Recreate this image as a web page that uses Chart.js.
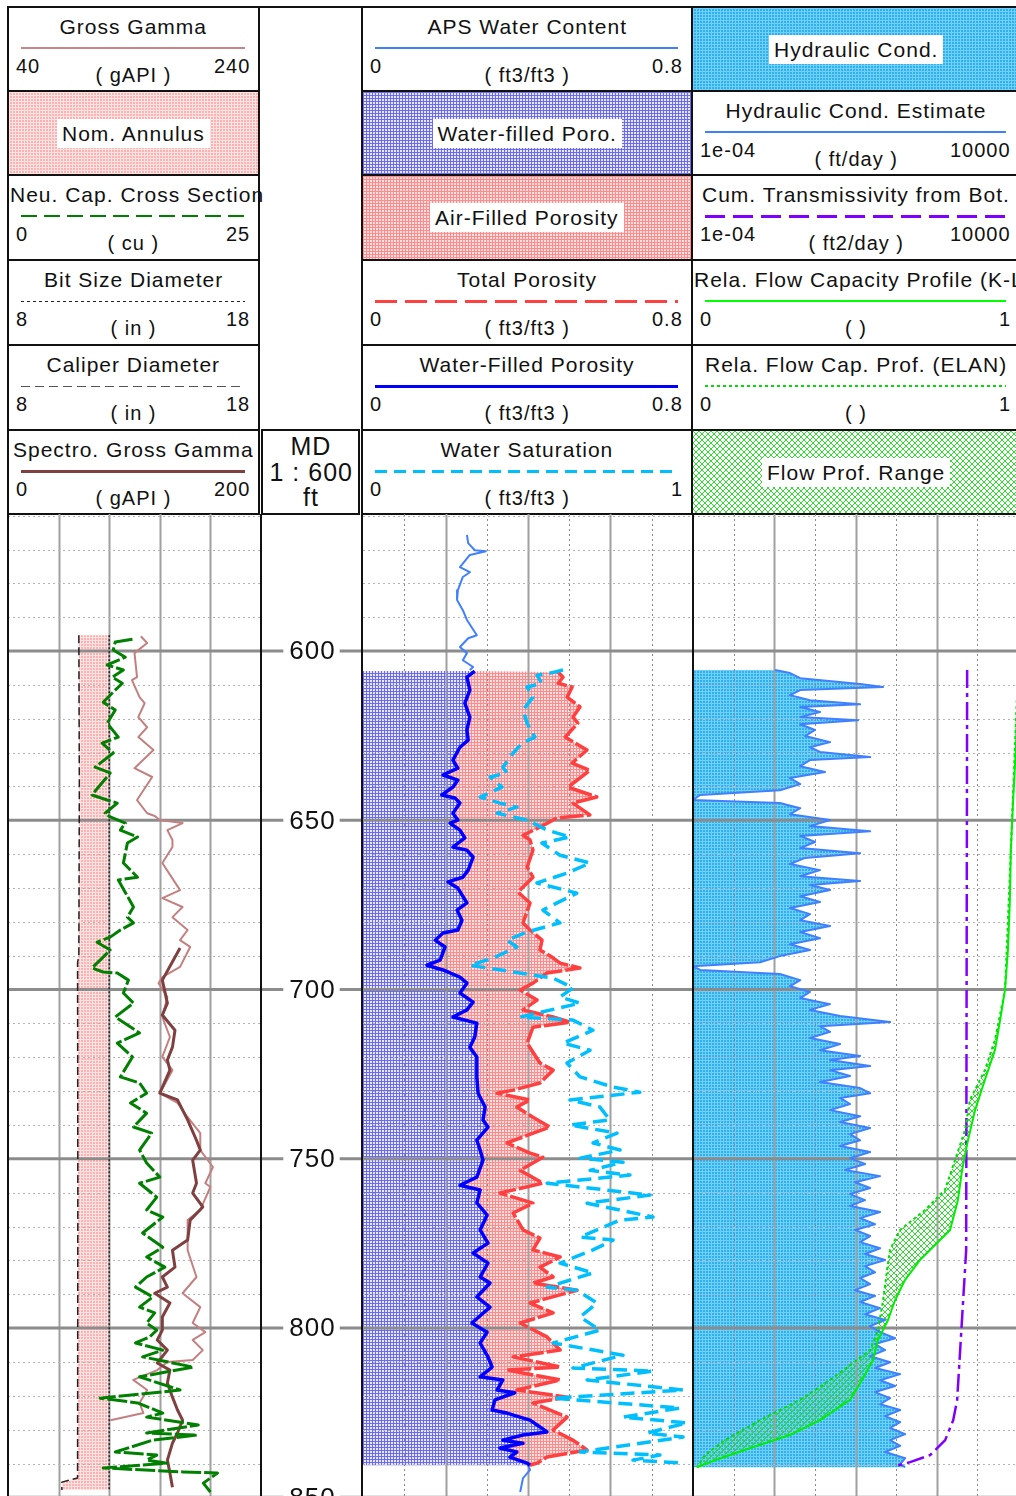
<!DOCTYPE html>
<html>
<head>
<meta charset="utf-8">
<title>Well log</title>
<script src="https://cdn.jsdelivr.net/npm/chart.js@4.4.1/dist/chart.umd.min.js"></script>
<style>
  html, body { margin: 0; padding: 0; background: #fff; }
  body { position: relative; width: 1016px; height: 1496px; overflow: hidden;
         font-family: "Liberation Sans", Arial, sans-serif; color: #111; }
  .cell { position: absolute; box-sizing: border-box; border: 2px solid #111; }
  .txt { position: absolute; white-space: nowrap; line-height: 1; letter-spacing: 1px; }
  .lbl { background: #fff; padding: 4px 5px; }
  .rule { position: absolute; background: #111; }
  canvas { position: absolute; }
</style>
</head>
<body>
<script>
// depth window (ft)
const depthTop = 559.5;
const depthBase = 849.6;
const majorDepths = [600, 650, 700, 750, 800, 850];

// ---- track 1 ----
const grDepth = [595.6,597.6,600.6,607.7,608.6,613.6,615.4,619.5,622.5,625.4,629.2,634.6,637.2,644.0,647.9,648.7,649.9,650.8,652.9,655.8,657.9,662.6,670.6,673.0,675.6,678.6,682.4,685.4,687.4,693.3,696.3,698.1,702.2,708.1,714.0,719.9,723.8,730.6,733.5,737.7,742.4,747.4,752.4,757.2,758.3,765.1,768.1,777.0,784.9,789.7,793.8,798.5,801.2,803.5,806.5,809.4,810.0,812.4,815.3,818.3,822.1,825.1,827.2];
const grValues = [145,150,140,142,138,144,148,143,150,143,155,140,154,142,150,156,160,178,166,170,170,162,176,162,178,170,182,176,184,176,162,159,166,162,168,162,170,160,174,182,192,192,202,196,200,192,182,182,189,178,192,186,196,186,194,186,166,158,139,150,144,147,121];

const sgrDepth = [687.7,697.2,704.0,707.5,712.0,717.0,720.8,723.8,730.6,732.6,738.5,744.5,747.4,750.4,757.2,760.1,764.2,768.1,774.0,777.0,782.0,784.9,787.9,789.7,792.6,796.7,800.6,803.5,806.5,810.3,812.4,816.2,820.4,824.2,827.2,831.0,834.0,839.0,842.8,847.0];
const sgrValues = [136,122,126,122,132,130,126,128,120,134,142,149,152,146,149,146,154,144,142,130,132,122,126,116,128,122,122,118,126,118,128,126,130,134,138,134,130,126,128,130];

const ncsDepth = [596.5,597.3,599.7,601.8,604.1,605.6,607.7,609.5,612.1,615.1,617.4,621.3,625.4,627.2,630.1,634.3,636.0,642.5,644.0,644.9,647.9,649.0,650.8,652.9,654.9,656.7,662.6,666.8,667.6,675.6,678.6,680.3,682.4,684.5,686.0,688.3,691.3,693.6,694.8,695.1,697.2,701.0,704.0,708.1,712.8,715.8,719.9,725.8,727.6,730.6,733.5,736.5,740.6,742.4,747.4,751.2,755.4,757.2,761.3,765.1,767.2,771.9,776.1,779.0,782.0,784.9,787.9,790.8,793.8,795.5,798.5,800.6,802.6,804.4,806.5,808.5,811.5,814.4,818.3,820.7,822.1,825.1,826.3,828.6,831.0,831.6,833.1,836.6,837.5,839.0,839.9,841.3,842.5,842.8,845.8,848.4];
const ncsValues = [12.3,10.6,10.4,11.6,9.8,11.4,10.3,11.3,10.4,9.4,10.6,9.8,10.9,9.3,10.4,8.6,10.1,8.3,9.8,10.8,9.6,10.1,11.6,11.1,12.8,11.8,11.4,12.8,10.9,12.4,11.8,12.4,11.1,10.1,8.8,10.1,9.1,8.3,9.4,10.8,11.9,11.4,12.4,10.6,13.0,10.8,12.3,11.1,13.0,13.7,12.1,13.7,12.4,14.2,13.0,13.7,15.0,13.0,14.7,13.7,15.3,13.3,15.3,13.7,15.5,13.7,12.6,14.3,13.0,14.5,13.7,14.7,14.0,12.6,15.3,13.3,18.3,13.0,17.0,9.1,12.8,15.3,13.7,18.8,13.7,18.7,14.3,10.6,14.7,13.7,15.7,9.4,17.3,20.7,19.3,20.0];

const calDepth = [595.3,640.0,690.0,692.0,760.0,844.3,845.5,847.8];
const calValues = [10.80,10.82,10.80,10.75,10.76,10.75,10.13,10.13];
const bitDepth = [595.3,847.8];
const bitValues = [12,12];

// ---- track 2 ----
const apsTopDepth = [565.7,568.1,570.2,570.5,571.6,575.2,576.7,578.1,582.0,584.9,587.9,590.8,595.3,596.2,598.8,600.6,602.7,604.7,605.6];
const apsTopValues = [0.252,0.255,0.271,0.298,0.259,0.235,0.259,0.242,0.230,0.228,0.242,0.252,0.276,0.255,0.235,0.252,0.242,0.267,0.259];
const apsBaseDepth = [839.9,841.9,844.3,848.4];
const apsBaseValues = [0.398,0.405,0.388,0.381];

const wfpDepth = [605.9,607.7,611.5,615.4,619.5,623.3,626.3,628.4,632.2,634.6,636.6,638.1,640.2,642.5,643.4,644.9,647.9,649.9,650.8,652.9,655.2,657.9,658.8,660.9,664.7,666.8,668.2,670.0,674.4,676.5,679.5,682.4,683.3,685.4,687.4,691.3,692.8,694.2,696.3,698.1,701.0,703.7,706.0,708.1,709.9,714.0,717.0,719.9,725.8,730.6,734.7,738.5,740.6,744.5,747.4,750.4,755.4,757.8,759.2,763.0,766.6,771.0,774.9,777.8,780.8,784.9,786.7,790.8,793.8,798.5,801.2,804.4,808.5,811.5,814.4,815.3,818.3,819.1,821.2,824.2,825.1,827.2,829.2,830.7,831.6,833.1,834.0,835.4,836.6,838.1,839.9,840.5];
const wfpValues = [0.271,0.252,0.259,0.247,0.259,0.252,0.255,0.235,0.218,0.230,0.194,0.230,0.218,0.191,0.223,0.235,0.218,0.230,0.211,0.235,0.247,0.218,0.252,0.267,0.255,0.242,0.206,0.230,0.252,0.228,0.240,0.230,0.194,0.175,0.199,0.187,0.155,0.194,0.235,0.252,0.235,0.267,0.252,0.218,0.276,0.271,0.259,0.276,0.276,0.279,0.296,0.291,0.303,0.276,0.284,0.291,0.276,0.235,0.284,0.276,0.301,0.284,0.303,0.267,0.303,0.284,0.308,0.276,0.308,0.264,0.301,0.284,0.303,0.313,0.284,0.339,0.325,0.368,0.320,0.313,0.349,0.405,0.429,0.446,0.388,0.339,0.388,0.332,0.373,0.356,0.398,0.405];

const tpDepth = [606.2,607.7,609.5,610.6,613.6,616.5,619.5,621.3,625.4,629.2,633.1,635.2,640.2,643.1,644.9,648.4,649.3,652.0,654.4,655.8,658.8,663.8,666.8,671.2,674.4,680.3,682.4,685.4,688.3,690.4,692.2,693.6,695.1,698.1,700.1,703.1,706.0,708.1,709.6,711.1,715.8,721.7,723.8,727.6,729.7,730.6,732.6,734.7,737.7,740.6,745.3,748.3,749.5,753.4,757.2,760.1,763.1,766.0,771.0,773.4,776.9,779.0,782.0,784.9,786.7,788.8,792.6,795.5,798.5,802.6,806.5,808.5,811.5,812.4,815.3,818.3,820.4,822.1,826.3,830.1,833.1,836.0,838.1,839.9,840.5];
const tpValues = [0.473,0.485,0.473,0.507,0.495,0.526,0.509,0.521,0.490,0.543,0.507,0.550,0.497,0.567,0.509,0.550,0.470,0.429,0.388,0.405,0.412,0.398,0.412,0.376,0.405,0.388,0.405,0.434,0.429,0.458,0.478,0.526,0.446,0.412,0.381,0.422,0.388,0.461,0.502,0.412,0.398,0.429,0.461,0.429,0.364,0.325,0.405,0.373,0.412,0.453,0.349,0.405,0.436,0.381,0.436,0.332,0.412,0.364,0.388,0.429,0.412,0.478,0.429,0.461,0.412,0.519,0.405,0.461,0.381,0.446,0.478,0.364,0.478,0.349,0.478,0.373,0.495,0.412,0.495,0.461,0.509,0.543,0.446,0.422,0.405];

const swDepth = [605.6,606.5,607.1,609.5,610.6,613.6,617.4,621.3,625.4,627.2,630.1,634.3,636.0,637.2,640.2,643.1,644.9,646.1,647.9,649.9,652.9,654.9,656.7,660.3,662.6,665.6,668.5,671.5,676.5,680.3,683.0,685.4,687.4,690.7,692.8,695.7,696.6,699.5,702.2,704.0,708.1,709.0,712.0,715.8,717.9,721.7,725.8,728.8,730.3,732.6,734.7,738.5,740.0,742.4,745.3,747.4,749.8,751.0,753.4,754.8,757.2,760.7,763.1,767.2,768.1,773.1,774.0,776.9,780.8,783.7,787.9,788.8,792.6,796.7,800.6,804.4,808.0,811.8,812.7,815.3,818.3,820.7,823.6,826.3,828.0,831.0,832.2,836.6,837.5,839.0,839.9];
const swValues = [0.606,0.567,0.527,0.542,0.497,0.515,0.485,0.497,0.521,0.482,0.455,0.424,0.436,0.385,0.421,0.355,0.415,0.467,0.406,0.497,0.558,0.627,0.542,0.597,0.688,0.618,0.527,0.648,0.545,0.597,0.497,0.436,0.467,0.394,0.324,0.515,0.576,0.636,0.597,0.658,0.476,0.636,0.697,0.606,0.688,0.618,0.658,0.758,0.839,0.627,0.718,0.748,0.627,0.770,0.697,0.779,0.658,0.788,0.688,0.809,0.558,0.870,0.679,0.879,0.779,0.658,0.758,0.697,0.597,0.697,0.558,0.648,0.709,0.658,0.718,0.576,0.788,0.636,0.879,0.679,0.970,0.576,0.961,0.788,0.982,0.861,0.970,0.658,0.900,0.818,0.976];

// ---- track 3 ----
const kDepth = [605.6,606.5,608.0,609.7,610.6,611.5,613.0,614.5,615.7,616.5,618.0,619.5,620.4,621.6,623.3,625.1,626.9,628.4,629.8,631.3,632.2,634.0,635.7,637.5,639.3,641.1,642.5,644.0,644.9,646.4,648.2,649.9,651.7,653.2,654.6,656.4,658.2,659.7,661.1,662.9,664.7,666.5,667.9,669.1,670.6,672.4,674.1,675.9,677.7,679.5,681.2,683.0,684.8,686.6,688.3,690.1,691.9,693.1,694.2,695.4,697.2,699.0,700.7,702.5,704.3,706.0,707.8,709.6,710.8,712.5,714.3,716.1,717.9,719.6,720.8,722.6,723.8,725.5,727.3,729.1,730.6,732.0,733.8,735.6,737.4,739.1,740.9,742.7,744.5,746.2,748.0,749.8,751.5,753.3,755.1,756.9,758.6,760.4,762.2,763.9,765.7,767.5,769.3,771.0,772.8,774.6,776.4,778.1,779.9,781.7,783.5,785.2,787.0,788.8,790.5,792.3,794.1,795.9,797.6,799.4,801.2,803.0,804.7,806.5,808.3,810.1,811.8,813.6,815.4,817.1,818.9,820.7,822.5,824.2,826.0,827.8,829.5,831.3,833.1,834.8,836.6,838.4,840.2,841.1];
const kValues = [0.0105,0.0245,0.0436,1.30,4.79,0.0436,0.0245,0.0759,1.30,0.0436,0.134,0.0436,1.16,0.0436,0.101,0.0575,0.237,0.0759,0.134,2.29,0.0759,0.0436,0.178,0.0245,0.0436,0.0138,0.00015,0.0001,0.0138,0.0436,0.0245,0.237,0.0759,2.29,0.0436,0.101,0.0436,1.30,0.0575,0.0245,0.134,0.0436,1.30,0.0759,0.237,0.0436,0.134,0.0245,0.0759,0.0436,0.237,0.0436,0.134,0.0245,0.0759,0.0138,0.0045,0.0001,0.00015,0.0138,0.0436,0.0245,0.0759,0.0436,0.237,0.0759,0.418,7.11,0.134,0.237,0.0759,0.418,0.134,1.30,0.237,2.29,0.237,0.736,0.134,1.30,2.29,0.418,0.736,0.237,1.30,0.418,2.29,0.736,1.30,0.418,2.29,0.736,1.72,0.555,4.04,0.977,2.29,0.736,1.72,0.736,4.04,1.30,3.04,0.977,2.29,1.30,4.04,1.72,5.36,1.72,3.04,1.30,2.29,0.977,3.04,1.30,4.04,1.72,5.36,2.29,4.04,9.44,3.04,5.36,2.29,7.11,3.04,12.6,4.04,9.44,3.04,7.11,4.04,12.6,5.36,12.6,7.11,16.7,7.11,12.6,5.36,16.7,12.6,16.7];

const ctDepth = [605.6,777.0,791.7,806.5,821.2,827.2,833.1,837.5,839.6,840.8];
const ctValues = [560,530,447,377,318,254,161,68.7,22.1,9.4];

const klDepth = [605.6,627.8,644.0,658.8,673.6,688.3,700.1,709.0,717.9,726.7,735.6,744.5,753.3,762.2,771.0,779.9,785.8,791.7,797.6,803.5,809.4,815.3,821.2,827.2,831.6,834.5,837.5,839.6,841.1];
const klValues = [1.0,0.994,0.985,0.978,0.975,0.969,0.960,0.945,0.929,0.898,0.868,0.846,0.828,0.815,0.791,0.698,0.652,0.622,0.600,0.569,0.554,0.520,0.483,0.391,0.298,0.206,0.114,0.052,0.012];

const elanDepth = [605.6,658.8,700.1,714.9,723.8,732.6,741.5,750.4,759.2,765.1,771.0,776.9,782.9,791.7,800.6,806.5,815.3,821.2,827.2,833.1,837.5,841.1];
const elanValues = [1.0,0.978,0.960,0.929,0.898,0.852,0.837,0.806,0.775,0.714,0.637,0.606,0.597,0.585,0.569,0.545,0.422,0.329,0.206,0.098,0.037,0.012];

// ---- layout ----
const plotTop = 514, plotHeight = 982;
const rowTops = [7, 91, 175, 260, 345, 430, 514];

function zip(depths, values) {
  return values.map((v, i) => ({ x: v, y: depths[i] }));
}

function gridTile(bg, fg) {
  const c = document.createElement('canvas');
  c.width = c.height = 3;
  const g = c.getContext('2d');
  g.fillStyle = bg; g.fillRect(0, 0, 3, 3);
  g.fillStyle = fg; g.fillRect(0, 0, 3, 1); g.fillRect(0, 0, 1, 3);
  return c;
}
function hatchTile(fg) {
  const c = document.createElement('canvas');
  c.width = c.height = 6;
  const g = c.getContext('2d');
  g.fillStyle = fg;
  for (let i = 0; i < 6; i++) { g.fillRect(i, i, 1, 1); g.fillRect(i, 5 - i, 1, 1); }
  return c;
}
const tiles = {
  annulus: gridTile('#ffb0b0', '#ffe4e4'),
  water: gridTile('#e8e8ff', '#6a6af2'),
  air: gridTile('#ffe0e0', '#ff8c8c'),
  hydro: gridTile('#30b0f0', '#70d0f8'),
  flow: hatchTile('#2fdc2f')
};
const pctx = document.createElement('canvas').getContext('2d');
const patterns = {};
Object.keys(tiles).forEach(k => { patterns[k] = pctx.createPattern(tiles[k], 'repeat'); });

// ---- header ----
function addText(str, x, y, size, align, minLeft) {
  const el = document.createElement('div');
  el.className = 'txt';
  el.textContent = str;
  el.style.fontSize = size + 'px';
  document.body.appendChild(el);
  const w = el.offsetWidth, h = el.offsetHeight;
  let lx = align === 'left' ? x : align === 'right' ? x - w : x - w / 2;
  if (minLeft !== undefined && lx < minLeft) lx = minLeft;
  el.style.left = lx + 'px';
  el.style.top = (y - h / 2) + 'px';
  return el;
}
function strokeCss(s) {
  if (!s.dash) return s.c;
  const a = s.dash[0], b = s.dash[1];
  return `repeating-linear-gradient(90deg, ${s.c} 0 ${a}px, transparent ${a}px ${a + b}px)`;
}

const headT1 = [
  { title: 'Gross Gamma', lo: '40', hi: '240', unit: '( gAPI )', stroke: { c: '#c88686', w: 2 } },
  { fill: 'annulus', label: 'Nom. Annulus' },
  { title: 'Neu. Cap. Cross Section', lo: '0', hi: '25', unit: '( cu )', stroke: { c: '#008000', w: 2, dash: [16, 7] } },
  { title: 'Bit Size Diameter', lo: '8', hi: '18', unit: '( in )', stroke: { c: '#222', w: 1, dash: [3, 3] } },
  { title: 'Caliper Diameter', lo: '8', hi: '18', unit: '( in )', stroke: { c: '#555', w: 1, dash: [9, 5] } },
  { title: 'Spectro. Gross Gamma', lo: '0', hi: '200', unit: '( gAPI )', stroke: { c: '#804040', w: 3 } }
];
const headT2 = [
  { title: 'APS Water Content', lo: '0', hi: '0.8', unit: '( ft3/ft3 )', stroke: { c: '#4080ff', w: 2 } },
  { fill: 'water', label: 'Water-filled Poro.' },
  { fill: 'air', label: 'Air-Filled Porosity' },
  { title: 'Total Porosity', lo: '0', hi: '0.8', unit: '( ft3/ft3 )', stroke: { c: '#ff4040', w: 3, dash: [22, 8] } },
  { title: 'Water-Filled Porosity', lo: '0', hi: '0.8', unit: '( ft3/ft3 )', stroke: { c: '#0000ff', w: 3 } },
  { title: 'Water Saturation', lo: '0', hi: '1', unit: '( ft3/ft3 )', stroke: { c: '#00bfff', w: 3, dash: [12, 7] } }
];
const headT3 = [
  { fill: 'hydro', label: 'Hydraulic Cond.' },
  { title: 'Hydraulic Cond. Estimate', lo: '1e-04', hi: '10000', unit: '( ft/day )', stroke: { c: '#4080ff', w: 2 } },
  { title: 'Cum. Transmissivity from Bot.', lo: '1e-04', hi: '10000', unit: '( ft2/day )', stroke: { c: '#8000ff', w: 3, dash: [20, 8] } },
  { title: 'Rela. Flow Capacity Profile (K-L)', lo: '0', hi: '1', unit: '(  )', stroke: { c: '#00ff00', w: 2 } },
  { title: 'Rela. Flow Cap. Prof. (ELAN)', lo: '0', hi: '1', unit: '(  )', stroke: { c: '#00dd00', w: 2, dash: [3, 3] } },
  { fill: 'flow', label: 'Flow Prof. Range' }
];

const headerTracks = [
  { left: 7, width: 253, rows: headT1 },
  { left: 361, width: 332, rows: headT2 },
  { left: 691, width: 330, rows: headT3 }
];

headerTracks.forEach(tr => {
  const right = tr.left + tr.width;
  const cx = tr.left + tr.width / 2;
  tr.rows.forEach((row, r) => {
    const top = rowTops[r], bottom = rowTops[r + 1];
    const cell = document.createElement('div');
    cell.className = 'cell';
    cell.style.left = tr.left + 'px';
    cell.style.top = (top - 1) + 'px';
    cell.style.width = tr.width + 'px';
    cell.style.height = (bottom - top + 2) + 'px';
    document.body.appendChild(cell);
    if (row.fill) {
      cell.style.backgroundColor = '#fff';
      cell.style.backgroundImage = `url(${tiles[row.fill].toDataURL()})`;
      const el = addText(row.label, cx, (top + bottom) / 2, 21, 'center');
      el.classList.add('lbl');
      el.style.left = (cx - el.offsetWidth / 2) + 'px';
      el.style.top = ((top + bottom) / 2 - el.offsetHeight / 2) + 'px';
      return;
    }
    addText(row.title, cx, top + 19, 21, 'center', tr.left + 3);
    const s = document.createElement('div');
    s.style.position = 'absolute';
    s.style.left = (tr.left + 14) + 'px';
    s.style.width = (tr.width - 29) + 'px';
    s.style.top = (top + 41 - row.stroke.w / 2) + 'px';
    s.style.height = row.stroke.w + 'px';
    s.style.background = strokeCss(row.stroke);
    document.body.appendChild(s);
    addText(row.lo, tr.left + 9, top + 59, 20, 'left');
    addText(row.unit, cx, top + 68, 20, 'center');
    addText(row.hi, right - 10, top + 59, 20, 'right');
  });
});

// depth column header
(function () {
  const top = document.createElement('div');
  top.className = 'rule';
  Object.assign(top.style, { left: '258px', top: '6px', width: '106px', height: '2px' });
  document.body.appendChild(top);
  const box = document.createElement('div');
  box.className = 'cell';
  Object.assign(box.style, { left: '261px', top: '429px', width: '99px', height: '86px' });
  document.body.appendChild(box);
  addText('MD', 311, 446, 25, 'center');
  addText('1 : 600', 311, 472, 25, 'center');
  addText('ft', 311, 497, 25, 'center');
})();

// ---- plot tracks ----
function makeCanvas(left, width) {
  const c = document.createElement('canvas');
  c.width = width; c.height = plotHeight;
  c.style.left = left + 'px'; c.style.top = plotTop + 'px';
  c.style.width = width + 'px'; c.style.height = plotHeight + 'px';
  document.body.appendChild(c);
  return c;
}

function curve(depths, values, axis, color, width, dash) {
  return {
    data: zip(depths, values), xAxisID: axis, yAxisID: 'y', showLine: true,
    borderColor: color, borderWidth: width, borderDash: dash || [],
    pointRadius: 0, tension: 0, fill: false, borderJoinStyle: 'round'
  };
}

const yScale = { type: 'linear', min: depthTop, max: depthBase, reverse: true, display: false };
function xLin(min, max) { return { type: 'linear', axis: 'x', min: min, max: max, display: false }; }

function trackPlugin(cfg) {
  return {
    id: 'track_' + cfg.name,
    beforeDatasetsDraw(chart) {
      const ctx = chart.ctx, ys = chart.scales.y, area = chart.chartArea;
      ctx.save();
      (cfg.fills || []).forEach(f => {
        const xs = chart.scales[f.axis];
        const rightPts = f.right.d.map((d, i) => [xs.getPixelForValue(f.right.v[i]), ys.getPixelForValue(d)]);
        let leftPts;
        if (f.left === 'edge') {
          leftPts = [[area.left, rightPts[0][1]], [area.left, rightPts[rightPts.length - 1][1]]];
        } else {
          leftPts = f.left.d.map((d, i) => [xs.getPixelForValue(f.left.v[i]), ys.getPixelForValue(d)]);
        }
        ctx.beginPath();
        leftPts.forEach((p, i) => i ? ctx.lineTo(p[0], p[1]) : ctx.moveTo(p[0], p[1]));
        rightPts.slice().reverse().forEach(p => ctx.lineTo(p[0], p[1]));
        ctx.closePath();
        ctx.fillStyle = f.pattern;
        ctx.fill();
      });
      // vertical grid
      const gx = chart.scales[cfg.gridAxis];
      cfg.vlines.forEach(v => {
        const px = Math.round(gx.getPixelForValue(v.at)) + 0.5;
        ctx.beginPath();
        ctx.moveTo(px, area.top); ctx.lineTo(px, area.bottom);
        if (v.dotted) { ctx.strokeStyle = '#8a8a8a'; ctx.lineWidth = 1; ctx.setLineDash([2, 3]); }
        else { ctx.strokeStyle = '#a0a0a0'; ctx.lineWidth = 2; ctx.setLineDash([]); }
        ctx.stroke();
      });
      // minor depth lines every 10 ft
      ctx.setLineDash([2, 3]);
      ctx.strokeStyle = '#b4b4b4';
      ctx.lineWidth = 1;
      for (let d = 560; d < depthBase; d += 10) {
        if (d % 50 === 0) continue;
        const py = Math.round(ys.getPixelForValue(d)) + 0.5;
        ctx.beginPath(); ctx.moveTo(area.left, py); ctx.lineTo(area.right, py); ctx.stroke();
      }
      ctx.setLineDash([]);
      ctx.strokeStyle = '#8c8c8c';
      ctx.lineWidth = 3;
      majorDepths.forEach(d => {
        const py = ys.getPixelForValue(d);
        ctx.beginPath(); ctx.moveTo(area.left, py); ctx.lineTo(area.right, py); ctx.stroke();
      });
      ctx.restore();
    }
  };
}

function baseOptions(scales) {
  return {
    responsive: false, animation: false, events: [], devicePixelRatio: 1,
    layout: { padding: 0 },
    plugins: { legend: { display: false }, tooltip: { enabled: false } },
    scales: scales
  };
}

// track 1
new Chart(makeCanvas(8, 253), {
  type: 'scatter',
  data: {
    datasets: [
      curve(ncsDepth, ncsValues, 'ncs', '#008000', 3, [20, 3]),
      curve(sgrDepth, sgrValues, 'sgr', '#804040', 3),
      curve(grDepth, grValues, 'gr', '#c48080', 2),
      curve(bitDepth, bitValues, 'cal', '#222', 1.5, [2, 2]),
      curve(calDepth, calValues, 'cal', '#222', 1.5, [8, 4])
    ]
  },
  options: baseOptions({
    y: yScale, gr: xLin(40, 240), ncs: xLin(0, 25), cal: xLin(8, 18), sgr: xLin(0, 200)
  }),
  plugins: [trackPlugin({
    name: 't1',
    fills: [{ axis: 'cal', left: { d: calDepth, v: calValues }, right: { d: bitDepth, v: bitValues }, pattern: patterns.annulus }],
    gridAxis: 'gr',
    vlines: [{ at: 80 }, { at: 120 }, { at: 160 }, { at: 200 }]
  })]
});

// depth track
new Chart(makeCanvas(262, 99), {
  type: 'scatter',
  data: { datasets: [] },
  options: baseOptions({ y: yScale, x: xLin(0, 1) }),
  plugins: [{
    id: 'depthLabels',
    afterDraw(chart) {
      const ctx = chart.ctx, ys = chart.scales.y, area = chart.chartArea;
      const cx = (area.left + area.right) / 2;
      ctx.save();
      ctx.font = '26px "Liberation Sans", Arial, sans-serif';
      ctx.letterSpacing = '1px';
      ctx.textAlign = 'center';
      ctx.textBaseline = 'middle';
      ctx.fillStyle = '#111';
      majorDepths.forEach(d => {
        const py = ys.getPixelForValue(d);
        const label = String(d);
        const w = ctx.measureText(label).width;
        ctx.strokeStyle = '#8c8c8c';
        ctx.lineWidth = 3;
        ctx.beginPath();
        ctx.moveTo(area.left, py); ctx.lineTo(cx - w / 2 - 5, py);
        ctx.moveTo(cx + w / 2 + 5, py); ctx.lineTo(area.right, py);
        ctx.stroke();
        ctx.fillText(label, cx + 1, py + 1);
      });
      ctx.restore();
    }
  }]
});

// track 2
new Chart(makeCanvas(363, 330), {
  type: 'scatter',
  data: {
    datasets: [
      curve(wfpDepth, wfpValues, 'por', '#0000ff', 3.5),
      curve(swDepth, swValues, 'sw', '#00bfff', 3.5, [14, 7]),
      curve(tpDepth, tpValues, 'por', '#ff4040', 3.5, [24, 3]),
      curve(apsTopDepth, apsTopValues, 'por', '#4080ff', 2),
      curve(apsBaseDepth, apsBaseValues, 'por', '#4080ff', 2)
    ]
  },
  options: baseOptions({ y: yScale, por: xLin(0, 0.8), sw: xLin(0, 1) }),
  plugins: [trackPlugin({
    name: 't2',
    fills: [
      { axis: 'por', left: 'edge', right: { d: wfpDepth, v: wfpValues }, pattern: patterns.water },
      { axis: 'por', left: { d: wfpDepth, v: wfpValues }, right: { d: tpDepth, v: tpValues }, pattern: patterns.air }
    ],
    gridAxis: 'por',
    vlines: [{ at: 0.1, dotted: true }, { at: 0.2 }, { at: 0.3, dotted: true }, { at: 0.4 },
             { at: 0.5, dotted: true }, { at: 0.6 }, { at: 0.7, dotted: true }]
  })]
});

// track 3
new Chart(makeCanvas(693, 325), {
  type: 'scatter',
  data: {
    datasets: [
      curve(klDepth, klValues, 'flow', '#00ee00', 2),
      curve(elanDepth, elanValues, 'flow', '#00dd00', 2, [3, 3]),
      curve(ctDepth, ctValues, 'k', '#8000ff', 2.5, [18, 5, 4, 5]),
      curve(kDepth, kValues, 'k', '#4080ff', 2)
    ]
  },
  options: baseOptions({
    y: yScale,
    k: { type: 'logarithmic', axis: 'x', min: 1e-4, max: 1e4, display: false },
    flow: xLin(0, 1)
  }),
  plugins: [trackPlugin({
    name: 't3',
    fills: [
      { axis: 'k', left: 'edge', right: { d: kDepth, v: kValues }, pattern: patterns.hydro },
      { axis: 'flow', left: { d: elanDepth, v: elanValues }, right: { d: klDepth, v: klValues }, pattern: patterns.flow }
    ],
    gridAxis: 'k',
    vlines: [{ at: 1e-3, dotted: true }, { at: 1e-2 }, { at: 1e-1, dotted: true }, { at: 1 },
             { at: 10, dotted: true }, { at: 100 }, { at: 1000, dotted: true }]
  })]
});

// track separators in the plot area
[7, 260, 361, 692].forEach(x => {
  const r = document.createElement('div');
  r.className = 'rule';
  Object.assign(r.style, { left: x + 'px', top: plotTop + 'px', width: '2px', height: plotHeight + 'px' });
  document.body.appendChild(r);
});
</script>
</body>
</html>
